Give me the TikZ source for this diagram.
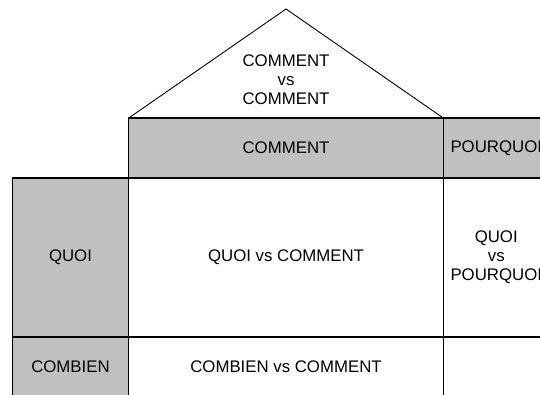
\documentclass[tikz,border=0pt]{standalone}
\usepackage{fontspec}
\setmainfont{Liberation Sans}
\usetikzlibrary{positioning}

\begin{document}
\begin{tikzpicture}
				[x=1pt,y=-1pt,line join=miter,
				%Styles
				cell/.style={draw=black,line width=1.2pt,inner sep=0pt,outer sep=0pt,
					minimum width=314.5pt,minimum height=159pt,align=center,
					font=\fontsize{16.8}{19}\selectfont},
				header/.style={cell,fill=cellgray},
				roof line/.style={draw=black,line width=0.9pt},
				rule/.style={draw=black,line width=2pt}
				]
				
				%Colors
				\definecolor{cellgray}{RGB}{192,192,192}
				
				\useasboundingbox (0,0) rectangle (540,394);
				\clip (0,0) rectangle (540,394);
				
				%The graphic
				\node[header,minimum height=60pt] (comment) at (286,148) {COMMENT};
				\node[header,minimum width=106pt,minimum height=60pt,right=0pt of comment] (pourquoi) {POURQUOI};
				
				\node[cell,below=0pt of comment] (quoi comment) {QUOI vs COMMENT};
				\node[header,minimum width=116.5pt,left=0pt of quoi comment] (quoi) {QUOI};
				\node[cell,minimum width=106pt,right=0pt of quoi comment] (quoi pourquoi) {QUOI\\vs\\POURQUOI};
				
				\node[cell,minimum height=60pt,below=0pt of quoi comment] (combien comment) {COMBIEN vs COMMENT};
				\node[header,minimum width=116.5pt,minimum height=60pt,left=0pt of combien comment] (combien) {COMBIEN};
				\node[cell,minimum width=106pt,minimum height=60pt,right=0pt of combien comment] (combien pourquoi) {};
				
				%heavier horizontal rules
				\draw[rule] (quoi.north west) -- (quoi pourquoi.north east);
				\draw[rule] (combien.north west) -- (combien pourquoi.north east);
				
				%Roof
				\coordinate (apex) at (286,9);
				\draw[roof line] (comment.north west) -- (apex) -- (comment.north east);
				\node[align=center,font=\fontsize{16.8}{19}\selectfont] (comment comment) at (286,80) {COMMENT\\vs\\COMMENT};
			\end{tikzpicture}
\end{document}
